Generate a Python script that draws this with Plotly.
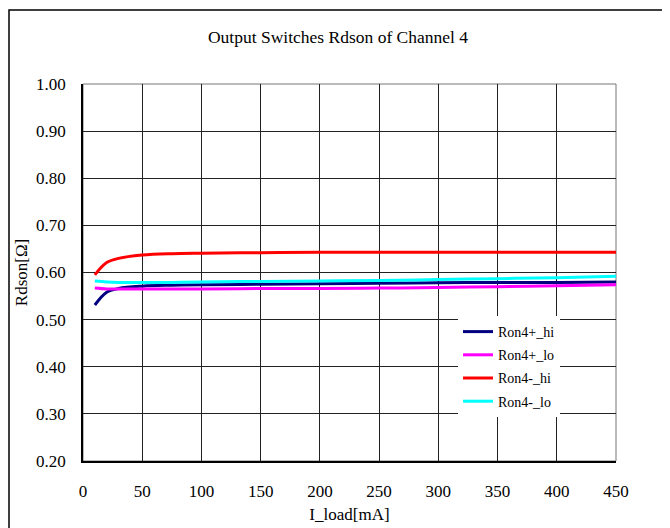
import plotly.graph_objects as go

x_load = [10, 20, 30, 50, 75, 100, 150, 200, 250, 300, 350, 400, 450]
ron_p_hi = [0.531, 0.558, 0.566, 0.571, 0.573, 0.574, 0.575, 0.576, 0.577, 0.578, 0.579, 0.579, 0.580]
ron_p_lo = [0.567, 0.565, 0.565, 0.565, 0.565, 0.565, 0.566, 0.566, 0.567, 0.568, 0.570, 0.572, 0.574]
ron_m_hi = [0.595, 0.621, 0.630, 0.637, 0.640, 0.641, 0.642, 0.643, 0.643, 0.643, 0.643, 0.643, 0.643]
ron_m_lo = [0.582, 0.580, 0.579, 0.579, 0.579, 0.580, 0.581, 0.582, 0.583, 0.585, 0.587, 0.589, 0.592]

names = ["Ron4+_hi", "Ron4+_lo", "Ron4-_hi", "Ron4-_lo"]
colors = ["#000080", "#FF00FF", "#FF0000", "#00FFFF"]
series = [ron_p_hi, ron_p_lo, ron_m_hi, ron_m_lo]

x_ticks = [0, 50, 100, 150, 200, 250, 300, 350, 400, 450]
y_ticks = [0.20, 0.30, 0.40, 0.50, 0.60, 0.70, 0.80, 0.90, 1.00]

font = "Liberation Serif, Times New Roman, serif"

# page body has an 8px margin: make the figure fit the window exactly after that offset
W, H = 662, 520
L, R, T, B = 75, 54, 76, 67
PW, PH = W - L - R, H - T - B
def px(xs):
    return (xs - 8 - L) / PW
def py(ys):
    return (T + PH - (ys - 8)) / PH

fig = go.Figure()
for i, (n, c, s) in enumerate(zip(names, colors, series)):
    fig.add_trace(go.Scatter(x=x_load, y=s, mode="lines", name=n, legendgroup=f"g{i}",
                             line=dict(color=c, width=3, shape="spline")))

fig.update_layout(
    width=W, height=H,
    margin=dict(l=L, r=R, t=T, b=B, autoexpand=False),
    paper_bgcolor="white", plot_bgcolor="white",
    font=dict(family=font, size=17, color="black"),
    title=dict(text="Output Switches Rdson of Channel 4", x=px(338), xref="paper",
               xanchor="center", y=1 - (37 - 8) / H, yanchor="middle",
               font=dict(size=17.5, family=font)),
    showlegend=True,
    legend=dict(x=px(458), y=py(316), xanchor="left", yanchor="top",
                bgcolor="white", borderwidth=0, font=dict(size=14, family=font),
                tracegroupgap=2, itemwidth=30),
    xaxis=dict(range=[0, 450], tickvals=x_ticks, ticktext=[str(v) for v in x_ticks],
               showgrid=True, gridcolor="#222222", gridwidth=1,
               showline=True, linecolor="black", linewidth=1.5, mirror=False,
               ticks="", ticklabelstandoff=14, zeroline=False, automargin=False,
               title=dict(text="I_load[mA]", standoff=8, font=dict(size=17))),
    yaxis=dict(range=[0.20, 1.00], tickvals=y_ticks, ticktext=[f"{v:.2f}" for v in y_ticks],
               showgrid=True, gridcolor="#222222", gridwidth=1,
               showline=True, linecolor="black", linewidth=1.5,
               ticks="", ticklabelstandoff=12, zeroline=False, automargin=False,
               title=dict(text="Rdson[Ω]", standoff=4, font=dict(size=17))),
)

# right / top borders of plot area (gray)
fig.add_shape(type="rect", xref="paper", yref="paper", x0=0, y0=0, x1=1, y1=1,
              line=dict(color="#777777", width=1), layer="below")
# outer chart frame
fig.add_shape(type="rect", xref="paper", yref="paper",
              x0=px(9), x1=px(668), y0=py(545), y1=py(10),
              line=dict(color="black", width=1.5))

fig.write_html("out.html")
